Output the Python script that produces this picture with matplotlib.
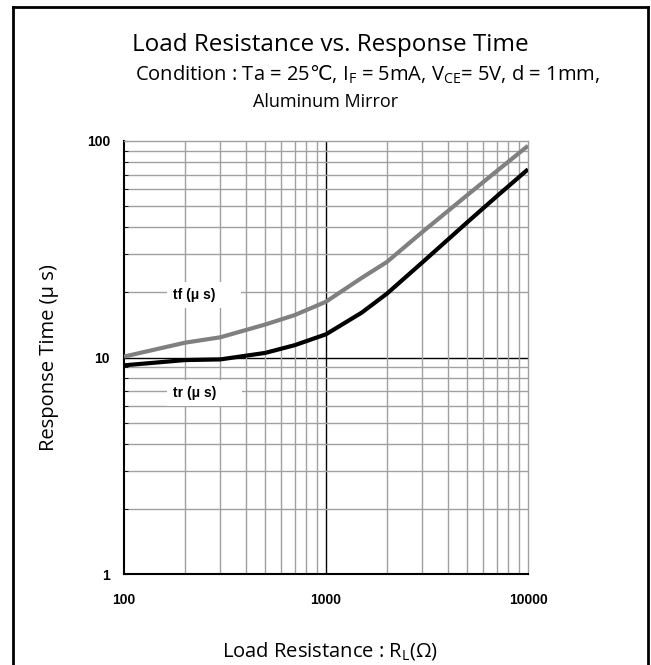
import matplotlib
matplotlib.use("Agg")
import matplotlib.pyplot as plt
from matplotlib.lines import Line2D
from matplotlib.ticker import LogLocator, FixedLocator, NullFormatter

# values
load_res = [100, 200, 300, 500, 700, 1000, 1500, 2000, 3000, 5000, 7000, 10000]
t_fall = [10.1, 11.7, 12.4, 14.2, 15.7, 18.1, 23.3, 27.6, 38.0, 56.2, 72.6, 95.0]
t_rise = [9.2, 9.73, 9.8, 10.5, 11.4, 12.8, 16.1, 19.7, 27.5, 42.1, 55.5, 74.0]

x_ticks = [100, 1000, 10000]
x_ticklabels = ["100", "1000", "10000"]
y_ticks = [1, 10, 100]
y_ticklabels = ["1", "10", "100"]

TXT = ["Open Sans", "DejaVu Sans"]
NUM = ["Liberation Sans Narrow", "Liberation Sans", "DejaVu Sans"]
GRID = "#a0a0a0"

fig = plt.figure(figsize=(6.51, 6.65), dpi=100)
ax = fig.add_axes([124 / 651, 1 - 574 / 665, 404 / 651, 433 / 665])

ax.set_xscale("log")
ax.set_yscale("log")
ax.set_xlim(100, 10000)
ax.set_ylim(1, 100)

# grid: grey minor lines, black line through 1000 / 10
ax.xaxis.set_minor_locator(LogLocator(base=10, subs=range(2, 10)))
ax.yaxis.set_minor_locator(LogLocator(base=10, subs=range(2, 10)))
ax.xaxis.set_minor_formatter(NullFormatter())
ax.yaxis.set_minor_formatter(NullFormatter())
ax.grid(which="minor", color=GRID, lw=1.0)
ax.axvline(1000, color="black", lw=1.0, zorder=1.5)
ax.axhline(10, color="black", lw=1.0, zorder=1.5)

ax.plot(load_res, t_fall, color="#808080", lw=3.0, solid_capstyle="butt",
        solid_joinstyle="round", zorder=3)
ax.plot(load_res, t_rise, color="black", lw=3.0, solid_capstyle="butt",
        solid_joinstyle="round", zorder=3)

box = dict(boxstyle="square,pad=0.45", fc="white", ec="none")
ax.text(175, 19.4, "tf (\u03bc s)     ", fontsize=10, fontweight="bold", family=NUM,
        ha="left", va="center", bbox=box, zorder=4)
ax.text(175, 6.86, "tr (\u03bc s)     ", fontsize=10, fontweight="bold", family=NUM,
        ha="left", va="center", bbox=box, zorder=4)

ax.xaxis.set_major_locator(FixedLocator(x_ticks))
ax.yaxis.set_major_locator(FixedLocator(y_ticks))
ax.set_xticklabels(x_ticklabels, family=NUM, fontsize=10, fontweight="bold")
ax.set_yticklabels(y_ticklabels, family=NUM, fontsize=10, fontweight="bold")
ax.tick_params(axis="x", which="both", length=0, pad=14)
ax.tick_params(axis="y", which="both", direction="in", length=3, pad=10)

for side in ("top", "right"):
    ax.spines[side].set_color(GRID)
    ax.spines[side].set_linewidth(1.0)
for side in ("left", "bottom"):
    ax.spines[side].set_color("black")
    ax.spines[side].set_linewidth(1.5)

ax.set_ylabel("Response Time (\u03bc s)", family=TXT, fontsize=14.5, labelpad=20)
fig.text(330 / 651, 1 - 651 / 665, "Load Resistance : R$_\\mathregular{L}$(\u03a9)",
         family=TXT, fontsize=14.5, ha="center", va="center")

fig.text(330 / 651, 1 - 45 / 665, "Load Resistance vs. Response Time",
         family=TXT, fontsize=17.5, ha="center", va="center")
# degree-Celsius sign comes from DejaVu Sans via mathtext
fig.text(135 / 651, 1 - 75 / 665,
         "Condition : Ta = 25$\\mathrm{\u2103}$, I$_\\mathregular{F}$ = 5mA, "
         "V$_\\mathregular{CE}$= 5V, d = 1mm,",
         family=TXT, fontsize=14.5, ha="left", va="center")
fig.text(326 / 651, 1 - 102 / 665, "Aluminum Mirror",
         family=TXT, fontsize=13, ha="center", va="center")

# outer frame (open at the bottom)
W, H = 651, 665
xl, xr, yt = 13 / W, 648 / W, 1 - 7 / H
for xs, ys in [([xl, xl], [0, yt]), ([xl, xr], [yt, yt]), ([xr, xr], [yt, 0])]:
    fig.add_artist(Line2D(xs, ys, color="black", lw=2.0, transform=fig.transFigure))

fig.savefig("out.png", dpi=100)
